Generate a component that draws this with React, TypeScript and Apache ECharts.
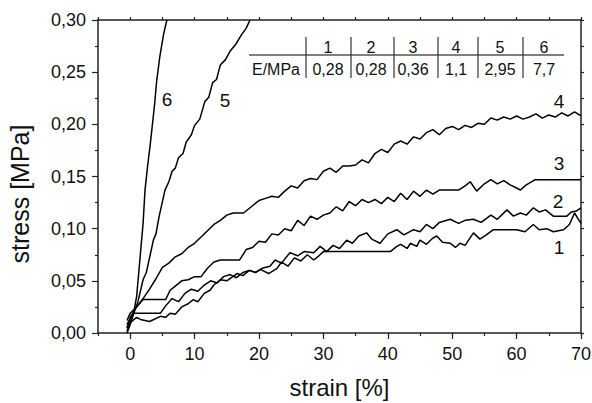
import React, { useEffect, useRef } from "react";
import * as echarts from "echarts";

const curve1: number[][] = [
  [-0.5, 0.002], [0, 0.01], [1, 0.015], [1.6, 0.013], [3, 0.011], [4.7, 0.016], [5.5, 0.015], [6.2, 0.019],
  [7, 0.018], [8, 0.025], [9, 0.028], [9.8, 0.032], [10.5, 0.03], [11.5, 0.038], [12.4, 0.041], [13, 0.046],
  [14, 0.051], [15, 0.05], [16.6, 0.057], [17.5, 0.055], [18.5, 0.06], [19.5, 0.058], [20.2, 0.061],
  [21.5, 0.057], [22.8, 0.062], [23.5, 0.068], [24.5, 0.064], [25.5, 0.072], [26.5, 0.069], [27.5, 0.075],
  [28.5, 0.07], [29.3, 0.074], [30, 0.078], [40.4, 0.078], [41.4, 0.083], [42, 0.085], [43, 0.081],
  [43.5, 0.086], [44.5, 0.083], [45, 0.089], [46, 0.085], [47, 0.091], [47.6, 0.093], [48.5, 0.087],
  [49.7, 0.086], [50.5, 0.082], [51.2, 0.086], [52, 0.084], [53.3, 0.096], [54.3, 0.09], [55.3, 0.094],
  [56.4, 0.099], [60, 0.099], [61.3, 0.097], [62.6, 0.104], [63.5, 0.099], [64.7, 0.1], [65.7, 0.097],
  [67.3, 0.099], [68.2, 0.104], [69, 0.115], [69.6, 0.109], [70, 0.105],
];

const curve2: number[][] = [
  [-0.5, 0.008], [0, 0.014], [0.5, 0.019], [4.7, 0.019], [5.5, 0.026], [6.5, 0.033], [7.5, 0.03],
  [8.5, 0.038], [9.5, 0.042], [10.5, 0.04], [11.5, 0.046], [12.5, 0.05], [13.5, 0.048], [14.5, 0.054],
  [15.5, 0.056], [16.5, 0.053], [17.5, 0.058], [18.5, 0.06], [19.5, 0.058], [20.5, 0.062], [21.7, 0.064],
  [22.5, 0.07], [23.5, 0.067], [24.8, 0.077], [26, 0.074], [27, 0.078], [28.5, 0.077], [29.5, 0.083],
  [30.5, 0.078], [31.5, 0.084], [32.5, 0.081], [33.6, 0.089], [34.5, 0.086], [35.5, 0.093], [36.7, 0.096],
  [37.5, 0.09], [38.8, 0.086], [40, 0.095], [41.4, 0.099], [42.5, 0.094], [44, 0.099], [45, 0.097],
  [46, 0.104], [47, 0.1], [48, 0.106], [49.7, 0.109], [51, 0.105], [52, 0.108], [53.3, 0.109],
  [54.5, 0.106], [56, 0.113], [57, 0.109], [58.5, 0.118], [59.5, 0.112], [60.6, 0.115], [61.5, 0.113],
  [62.6, 0.12], [63.5, 0.116], [64.5, 0.118], [65.7, 0.112], [67.8, 0.112], [68.5, 0.116], [69.3, 0.117],
  [70, 0.12],
];

const curve3: number[][] = [
  [-0.5, 0.005], [0, 0.015], [1, 0.025], [2, 0.032], [5.5, 0.032], [6.2, 0.041], [7, 0.045], [8, 0.05],
  [9, 0.051], [10, 0.054], [11, 0.054], [12, 0.062], [13, 0.068], [14, 0.07], [17, 0.07], [18, 0.08],
  [19, 0.082], [20, 0.088], [21, 0.087], [22, 0.095], [23, 0.094], [24, 0.1], [25, 0.098], [26, 0.108],
  [27, 0.103], [28, 0.112], [29, 0.109], [30, 0.113], [31, 0.115], [32, 0.121], [33, 0.117], [34, 0.126],
  [35, 0.122], [36, 0.128], [37, 0.125], [38, 0.128], [39, 0.124], [40, 0.13], [41, 0.126], [42, 0.134],
  [43, 0.128], [44, 0.136], [45, 0.131], [46, 0.137], [47, 0.133], [48, 0.137], [51, 0.137], [52, 0.141],
  [52.8, 0.145], [53.8, 0.136], [55, 0.143], [56, 0.147], [57, 0.143], [58, 0.146], [59, 0.142],
  [60, 0.139], [60.6, 0.137], [61.5, 0.142], [62.9, 0.147], [70, 0.147],
];

const curve4: number[][] = [
  [-0.5, 0.012], [0, 0.019], [1, 0.025], [2, 0.033], [3, 0.042], [4, 0.052], [5, 0.063], [6, 0.067],
  [7, 0.073], [8, 0.076], [9, 0.082], [10, 0.086], [11, 0.092], [12, 0.098], [13, 0.104], [14, 0.108],
  [15, 0.113], [16, 0.115], [17.6, 0.115], [19, 0.122], [20, 0.127], [21, 0.129], [22, 0.131],
  [23, 0.13], [24, 0.136], [25, 0.141], [26, 0.139], [27, 0.146], [28, 0.148], [29, 0.147], [30, 0.155],
  [31, 0.158], [32, 0.154], [33, 0.16], [34, 0.16], [35, 0.161], [36, 0.166], [37, 0.163], [38, 0.172],
  [39, 0.176], [40, 0.173], [41, 0.181], [42, 0.184], [43, 0.181], [44, 0.188], [45, 0.186], [46, 0.192],
  [47, 0.195], [48, 0.19], [49, 0.196], [50, 0.198], [51, 0.195], [52, 0.199], [53, 0.197], [54, 0.201],
  [55, 0.2], [56, 0.206], [57, 0.204], [58, 0.207], [59, 0.205], [60, 0.208], [61, 0.205], [62, 0.207],
  [63, 0.21], [64, 0.206], [65, 0.209], [66, 0.207], [67, 0.211], [68, 0.208], [69, 0.212], [70, 0.208],
];

const curve5: number[][] = [
  [-0.5, 0.005], [0.5, 0.018], [1.2, 0.03], [2, 0.051], [2.5, 0.058], [3, 0.072], [3.6, 0.089],
  [4, 0.095], [4.5, 0.112], [5.4, 0.137], [6, 0.145], [6.5, 0.155], [7, 0.158], [7.5, 0.168],
  [8.2, 0.172], [8.7, 0.183], [9.5, 0.19], [10, 0.199], [10.8, 0.205], [11.6, 0.222], [12.2, 0.226],
  [12.8, 0.24], [13.4, 0.243], [14, 0.257], [14.8, 0.262], [15.5, 0.27], [16.3, 0.276], [17.3, 0.286],
  [18, 0.292], [18.6, 0.3],
];

const curve6: number[][] = [
  [-0.5, 0.0], [0, 0.008], [0.5, 0.018], [1, 0.035], [1.5, 0.07], [2, 0.105], [2.3, 0.137],
  [2.7, 0.16], [3.1, 0.18], [3.4, 0.197], [3.8, 0.22], [4.1, 0.241], [4.6, 0.265], [5.2, 0.287],
  [5.7, 0.3],
];

const xLabelValues = [0, 10, 20, 30, 40, 50, 60, 70];
const tableHeaders = ["1", "2", "3", "4", "5", "6"];
const tableValues = ["0,28", "0,28", "0,36", "1,1", "2,95", "7,7"];
const tableRowLabel = "E/MPa";
const curveLabels = ["1", "2", "3", "4", "5", "6"];
const xTitle = "strain [%]";
const yTitle = "stress [MPa]";

const FONT = "'Liberation Sans', Arial, Helvetica, sans-serif";
const AXIS_COLOR = "#222";

export default function App() {
  const ref = useRef<HTMLDivElement>(null);

  useEffect(() => {
    if (!ref.current) return;
    const chart = echarts.init(ref.current, undefined, { renderer: "svg" });

    const colX = [328, 371, 413, 456, 500, 544];
    const vLines = [306, 351, 394, 438, 478, 523];
    const labelPos: Record<string, number[]> = {
      "1": [559, 247], "2": [558, 201], "3": [559, 163], "4": [559, 101], "5": [225, 100], "6": [167, 99],
    };

    const graphics: any[] = [];
    graphics.push({
      type: "line", shape: { x1: 249, y1: 55, x2: 564, y2: 55 },
      style: { stroke: "#555", lineWidth: 1.5 }, z: 10,
    });
    vLines.forEach((x) => {
      graphics.push({
        type: "line", shape: { x1: x, y1: 37, x2: x, y2: 78 },
        style: { stroke: "#333", lineWidth: 1.2 }, z: 10,
      });
    });
    graphics.push({
      type: "text", x: 276, y: 69,
      style: { text: tableRowLabel, font: `16px ${FONT}`, fill: "#111", align: "center", verticalAlign: "middle" },
      z: 10,
    });
    tableHeaders.forEach((h, i) => {
      graphics.push({
        type: "text", x: colX[i], y: 47,
        style: { text: h, font: `16px ${FONT}`, fill: "#111", align: "center", verticalAlign: "middle" },
        z: 10,
      });
      graphics.push({
        type: "text", x: colX[i], y: 69,
        style: { text: tableValues[i], font: `16px ${FONT}`, fill: "#111", align: "center", verticalAlign: "middle" },
        z: 10,
      });
    });
    curveLabels.forEach((l) => {
      const p = labelPos[l];
      graphics.push({
        type: "text", x: p[0], y: p[1],
        style: { text: l, font: `19px ${FONT}`, fill: "#111", align: "center", verticalAlign: "middle" },
        z: 10,
      });
    });
    graphics.push({
      type: "text", x: 20, y: 194, rotation: Math.PI / 2,
      style: { text: yTitle, font: `25px ${FONT}`, fill: "#111", align: "center", verticalAlign: "middle" },
      z: 10,
    });

    const series = [curve1, curve2, curve3, curve4, curve5, curve6].map((d, i) => ({
      type: "line",
      name: curveLabels[i],
      data: d,
      xAxisIndex: 0,
      yAxisIndex: 0,
      showSymbol: false,
      symbol: "none",
      lineStyle: { color: "#000", width: 1.5 },
      clip: true,
    }));

    chart.setOption({
      animation: false,
      backgroundColor: "#fff",
      textStyle: { fontFamily: FONT },
      grid: { left: 98, top: 20, width: 483, height: 313, containLabel: false, outerBoundsMode: "none" },
      xAxis: [
        {
          type: "value", position: "bottom", min: -5, max: 70,
          name: xTitle, nameLocation: "middle", nameGap: 42,
          nameTextStyle: { fontSize: 24, color: "#111", fontFamily: FONT },
          axisLine: { show: true, onZero: false, lineStyle: { color: AXIS_COLOR, width: 1.5 } },
          axisTick: { show: true, inside: false, length: 6, customValues: xLabelValues, lineStyle: { color: AXIS_COLOR, width: 1.2 } },
          axisLabel: { customValues: xLabelValues, fontSize: 18, color: "#111", margin: 12, fontFamily: FONT, formatter: (v: number) => String(v) },
          splitLine: { show: false },
        },
        {
          type: "value", position: "bottom", min: -5, max: 70, interval: 5,
          axisLine: { show: false, onZero: false },
          axisTick: { show: true, inside: false, length: 3, lineStyle: { color: AXIS_COLOR, width: 1.2 } },
          axisLabel: { show: false },
          splitLine: { show: false },
        },
        {
          type: "value", position: "top", min: -5, max: 70, interval: 5,
          axisLine: { show: true, onZero: false, lineStyle: { color: AXIS_COLOR, width: 1.5 } },
          axisTick: { show: true, inside: false, length: 3, lineStyle: { color: AXIS_COLOR, width: 1.2 } },
          axisLabel: { show: false },
          splitLine: { show: false },
        },
      ],
      yAxis: [
        {
          type: "value", position: "left", min: 0, max: 0.3, interval: 0.05,
          axisLine: { show: true, onZero: false, lineStyle: { color: AXIS_COLOR, width: 1.5 } },
          axisTick: { show: true, inside: false, length: 6, lineStyle: { color: AXIS_COLOR, width: 1.2 } },
          minorTick: { show: true, splitNumber: 2, length: 3, lineStyle: { color: AXIS_COLOR, width: 1.2 } },
          axisLabel: { fontSize: 18, color: "#111", margin: 12, fontFamily: FONT, formatter: (v: number) => v.toFixed(2).replace(".", ",") },
          splitLine: { show: false },
        },
        {
          type: "value", position: "right", min: 0, max: 0.3, interval: 0.025,
          axisLine: { show: true, onZero: false, lineStyle: { color: AXIS_COLOR, width: 1.5 } },
          axisTick: { show: true, inside: false, length: 3, lineStyle: { color: AXIS_COLOR, width: 1.2 } },
          axisLabel: { show: false },
          splitLine: { show: false },
        },
      ],
      series,
      graphic: graphics,
    });

    return () => chart.dispose();
  }, []);

  return <div ref={ref} style={{ position: "absolute", left: 0, top: 0, width: 592, height: 403 }} />;
}
